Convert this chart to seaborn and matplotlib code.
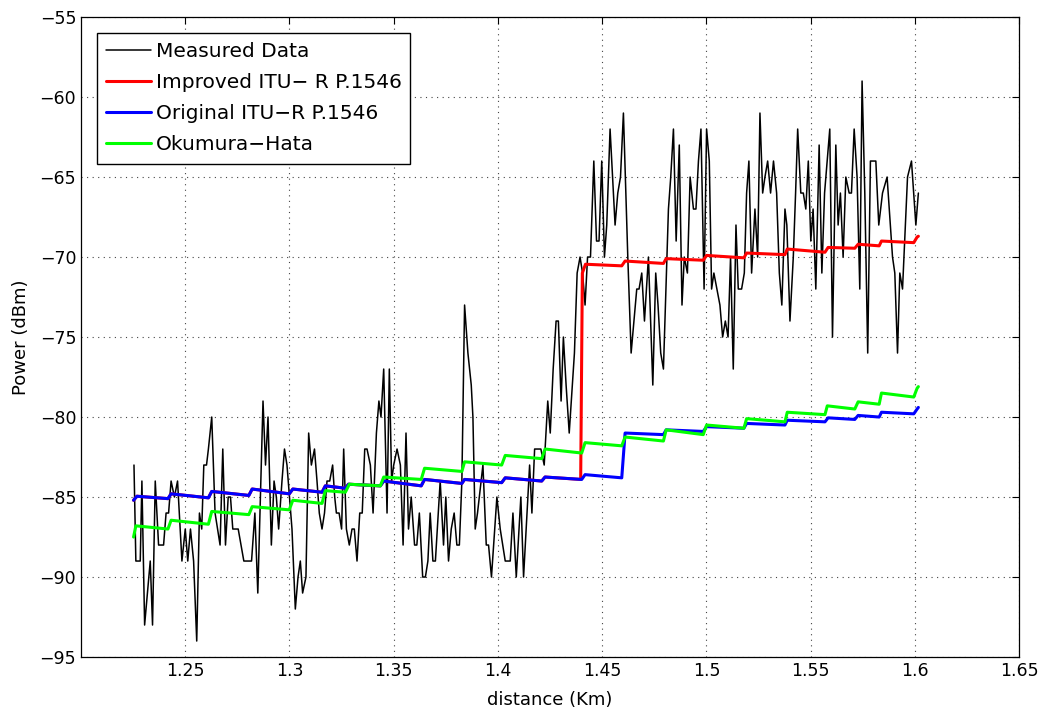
import numpy as np
import pandas as pd
import seaborn as sns
import matplotlib.pyplot as plt

# measured data (distance in km, received power in dBm)
meas_x = [1.2254, 1.2263, 1.2284, 1.2292, 1.2305, 1.2332, 1.2343, 1.2356, 1.2372, 1.2396,
          1.2408, 1.2420, 1.2432, 1.2448, 1.2463, 1.2484, 1.2500, 1.2512, 1.2525, 1.2540,
          1.2555, 1.2568, 1.2579, 1.2589, 1.2602, 1.2611, 1.2627, 1.2643, 1.2667, 1.2680,
          1.2693, 1.2706, 1.2717, 1.2728, 1.2754, 1.2781, 1.2818, 1.2834, 1.2848, 1.2873,
          1.2885, 1.2897, 1.2913, 1.2926, 1.2937, 1.2948, 1.2964, 1.2976, 1.2988, 1.3012,
          1.3028, 1.3041, 1.3052, 1.3063, 1.3079, 1.3092, 1.3105, 1.3120, 1.3132, 1.3143,
          1.3156, 1.3168, 1.3180, 1.3193, 1.3207, 1.3217, 1.3225, 1.3238, 1.3250, 1.3260,
          1.3273, 1.3287, 1.3300, 1.3311, 1.3324, 1.3337, 1.3349, 1.3361, 1.3372, 1.3388,
          1.3401, 1.3417, 1.3429, 1.3439, 1.3452, 1.3468, 1.3479, 1.3490, 1.3500, 1.3516,
          1.3532, 1.3545, 1.3559, 1.3571, 1.3584, 1.3600, 1.3611, 1.3623, 1.3639, 1.3652,
          1.3664, 1.3675, 1.3688, 1.3700, 1.3723, 1.3739, 1.3750, 1.3763, 1.3776, 1.3790,
          1.3803, 1.3815, 1.3827, 1.3840, 1.3856, 1.3872, 1.3880, 1.3891, 1.3902, 1.3928,
          1.3944, 1.3955, 1.3969, 1.3995, 1.4011, 1.4035, 1.4059, 1.4072, 1.4088, 1.4110,
          1.4123, 1.4152, 1.4163, 1.4176, 1.4206, 1.4222, 1.4239, 1.4251, 1.4265, 1.4279,
          1.4290, 1.4303, 1.4314, 1.4327, 1.4342, 1.4367, 1.4380, 1.4394, 1.4406, 1.4418,
          1.4430, 1.4444, 1.4460, 1.4473, 1.4485, 1.4498, 1.4511, 1.4522, 1.4538, 1.4562,
          1.4575, 1.4588, 1.4602, 1.4623, 1.4639, 1.4666, 1.4677, 1.4690, 1.4703, 1.4722,
          1.4743, 1.4757, 1.4768, 1.4781, 1.4794, 1.4818, 1.4829, 1.4842, 1.4855, 1.4870,
          1.4883, 1.4894, 1.4909, 1.4922, 1.4938, 1.4950, 1.4962, 1.4974, 1.4989, 1.5001,
          1.5014, 1.5025, 1.5036, 1.5065, 1.5078, 1.5091, 1.5104, 1.5116, 1.5129, 1.5142,
          1.5153, 1.5169, 1.5182, 1.5193, 1.5204, 1.5217, 1.5233, 1.5246, 1.5257, 1.5270,
          1.5281, 1.5294, 1.5308, 1.5322, 1.5337, 1.5350, 1.5362, 1.5377, 1.5386, 1.5401,
          1.5417, 1.5428, 1.5438, 1.5453, 1.5465, 1.5477, 1.5489, 1.5501, 1.5512, 1.5525,
          1.5541, 1.5554, 1.5567, 1.5592, 1.5605, 1.5621, 1.5632, 1.5643, 1.5656, 1.5669,
          1.5685, 1.5696, 1.5709, 1.5723, 1.5736, 1.5747, 1.5760, 1.5774, 1.5787, 1.5813,
          1.5827, 1.5845, 1.5867, 1.5893, 1.5904, 1.5917, 1.5928, 1.5941, 1.5965, 1.5984,
          1.6005, 1.6017]
meas_y = [-83, -89, -89, -84, -93, -89, -93, -84, -88, -88,
          -86, -86, -84, -85, -84, -89, -87, -89, -87, -89,
          -94, -86, -87, -83, -83, -82, -80, -86, -88, -82,
          -88, -85, -85, -87, -87, -89, -89, -86, -91, -79,
          -83, -80, -88, -84, -85, -87, -84, -82, -83, -87,
          -92, -90, -89, -91, -90, -81, -83, -82, -84, -86,
          -87, -86, -84, -84, -83, -85, -86, -86, -87, -82,
          -87, -88, -87, -87, -89, -86, -86, -82, -82, -83,
          -86, -81, -79, -80, -77, -86, -77, -84, -83, -82,
          -83, -88, -81, -87, -85, -88, -88, -86, -90, -90,
          -89, -86, -89, -89, -84, -88, -85, -89, -87, -86,
          -88, -88, -84, -73, -76, -78, -80, -87, -86, -83,
          -88, -88, -90, -85, -87, -89, -89, -86, -90, -85,
          -90, -83, -86, -82, -82, -83, -79, -81, -77, -74,
          -74, -79, -75, -78, -81, -76, -71, -70, -71, -73,
          -70, -70, -64, -69, -69, -64, -70, -68, -62, -68,
          -66, -65, -61, -70, -76, -72, -72, -71, -74, -70,
          -78, -71, -73, -76, -77, -67, -65, -62, -69, -63,
          -73, -70, -71, -65, -67, -67, -64, -62, -72, -62,
          -64, -72, -71, -73, -75, -74, -75, -70, -77, -68,
          -72, -72, -71, -66, -64, -71, -67, -70, -61, -66,
          -65, -64, -66, -64, -66, -71, -73, -67, -68, -74,
          -70, -66, -62, -66, -66, -67, -64, -69, -67, -72,
          -63, -71, -66, -62, -75, -63, -68, -66, -70, -65,
          -66, -66, -62, -65, -72, -59, -66, -76, -64, -64,
          -68, -66, -65, -70, -71, -76, -71, -72, -65, -64,
          -68, -66]

# Original ITU-R P.1546 (stair-step prediction)
orig_x = [1.2252, 1.2268, 1.2417, 1.2432, 1.2611, 1.2627, 1.2805, 1.2821, 1.2999, 1.3016,
          1.3156, 1.3172, 1.3268, 1.3283, 1.3436, 1.3452, 1.3632, 1.3648, 1.3827, 1.3840,
          1.4018, 1.4035, 1.4210, 1.4226, 1.4402, 1.4418, 1.4594, 1.4610, 1.4794, 1.4807,
          1.4985, 1.5001, 1.5180, 1.5193, 1.5377, 1.5388, 1.5569, 1.5584, 1.5712, 1.5728,
          1.5829, 1.5840, 1.5995, 1.6011, 1.6017]
orig_y = [-85.2, -84.95, -85.1, -84.8, -85.05, -84.65, -84.9, -84.5, -84.8, -84.5,
          -84.7, -84.3, -84.45, -84.2, -84.3, -84.0, -84.3, -83.9, -84.15, -83.9,
          -84.1, -83.8, -84.0, -83.75, -83.9, -83.6, -83.8, -81.0, -81.1, -80.8,
          -80.9, -80.6, -80.7, -80.4, -80.5, -80.2, -80.3, -80.05, -80.15, -79.9,
          -80.0, -79.7, -79.8, -79.5, -79.4]

# Improved ITU-R P.1546
impr_x = [1.2252, 1.2268, 1.2417, 1.2432, 1.2611, 1.2627, 1.2805, 1.2821, 1.2999, 1.3016,
          1.3156, 1.3172, 1.3268, 1.3283, 1.3436, 1.3452, 1.3632, 1.3648, 1.3827, 1.3840,
          1.4018, 1.4035, 1.4210, 1.4226, 1.4397, 1.4405, 1.4420, 1.4594, 1.4610, 1.4794,
          1.4807, 1.4985, 1.5001, 1.5180, 1.5193, 1.5377, 1.5388, 1.5569, 1.5584, 1.5712,
          1.5728, 1.5829, 1.5840, 1.5995, 1.6011, 1.6017]
impr_y = [-85.2, -84.95, -85.1, -84.8, -85.05, -84.65, -84.9, -84.5, -84.8, -84.5,
          -84.7, -84.3, -84.45, -84.2, -84.3, -84.0, -84.3, -83.9, -84.15, -83.9,
          -84.1, -83.8, -84.0, -83.75, -83.9, -71.0, -70.45, -70.55, -70.25, -70.4,
          -70.1, -70.2, -69.9, -70.05, -69.75, -69.85, -69.5, -69.7, -69.4, -69.45,
          -69.2, -69.3, -69.0, -69.1, -68.75, -68.7]

# Okumura-Hata
hata_x = [1.2252, 1.2263, 1.2417, 1.2432, 1.2611, 1.2627, 1.2805, 1.2821, 1.2999, 1.3016,
          1.3156, 1.3172, 1.3268, 1.3287, 1.3436, 1.3452, 1.3632, 1.3648, 1.3827, 1.3840,
          1.4018, 1.4035, 1.4210, 1.4226, 1.4402, 1.4418, 1.4594, 1.4610, 1.4794, 1.4807,
          1.4985, 1.5001, 1.5180, 1.5193, 1.5377, 1.5388, 1.5569, 1.5580, 1.5712, 1.5728,
          1.5829, 1.5840, 1.5995, 1.6011, 1.6017]
hata_y = [-87.5, -86.8, -87.0, -86.45, -86.7, -85.9, -86.1, -85.6, -85.8, -85.2,
          -85.4, -84.6, -84.7, -84.2, -84.3, -83.75, -83.9, -83.2, -83.4, -82.8,
          -83.0, -82.4, -82.6, -82.0, -82.25, -81.6, -81.8, -81.25, -81.5, -80.8,
          -81.1, -80.5, -80.7, -80.1, -80.3, -79.7, -79.85, -79.3, -79.5, -79.05,
          -79.2, -78.5, -78.75, -78.2, -78.1]

x_ticks = [1.25, 1.3, 1.35, 1.4, 1.45, 1.5, 1.55, 1.6, 1.65]
y_ticks = [-95, -90, -85, -80, -75, -70, -65, -60, -55]

sns.set_style("white")
plt.rcParams['font.family'] = ['DejaVu Sans']
plt.rcParams['text.color'] = 'black'
plt.rcParams['axes.labelcolor'] = 'black'
plt.rcParams['xtick.direction'] = 'in'
plt.rcParams['ytick.direction'] = 'in'

fig = plt.figure(figsize=(10.47, 7.13), dpi=100)
ax = fig.add_axes([0.0774, 0.0785, 0.8959, 0.8976])

series = [
    (meas_x, meas_y, 'Measured Data', 'black', 1.1),
    (impr_x, impr_y, 'Improved ITU\u2212 R P.1546', '#ff0000', 2.2),
    (orig_x, orig_y, 'Original ITU\u2212R P.1546', '#0000ff', 2.2),
    (hata_x, hata_y, 'Okumura\u2212Hata', '#00ff00', 2.2),
]
for xs, ys, name, col, lw in series:
    df = pd.DataFrame({'distance': xs, 'power': ys})
    sns.lineplot(data=df, x='distance', y='power', ax=ax, color=col, linewidth=lw,
                 label=name, sort=False, estimator=None)

ax.set_xlim(1.2, 1.65)
ax.set_ylim(-95, -55)
ax.set_xticks(x_ticks)
ax.set_yticks(y_ticks)
ax.set_xticklabels([f'{t:g}' for t in x_ticks])
ax.set_yticklabels([f'\u2212{abs(t)}' for t in y_ticks])
ax.tick_params(labelsize=12.5, length=5, width=0.8, top=True, right=True,
               colors='black', labelcolor='black')
ax.grid(True, linestyle=(0, (1, 4)), color='#444444', linewidth=0.8)
for sp in ax.spines.values():
    sp.set_color('black')
    sp.set_linewidth(0.9)

ax.set_xlabel('distance (Km)', fontsize=13, labelpad=8, color='black')
ax.set_ylabel('Power (dBm)', fontsize=13, labelpad=7, color='black')

leg = ax.legend(loc='upper left', fontsize=14.5, frameon=True, fancybox=False,
                framealpha=1, edgecolor='black', handlelength=2.2, handletextpad=0.25,
                labelspacing=0.6, borderaxespad=0.8, borderpad=0.45)
leg.get_frame().set_linewidth(1.0)
for txt in leg.get_texts():
    txt.set_color('black')

plt.savefig('out.png', dpi=100)
